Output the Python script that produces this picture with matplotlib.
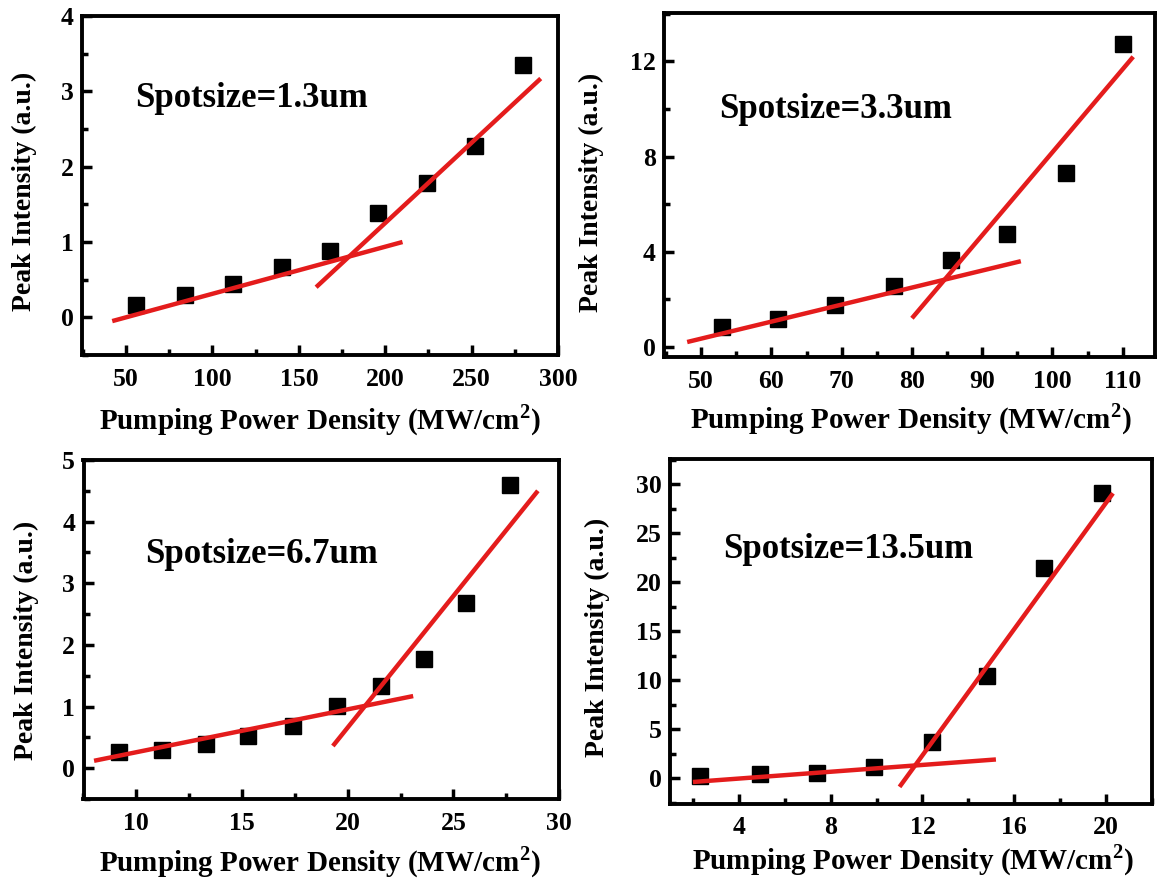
import matplotlib
matplotlib.use("Agg")
import matplotlib.pyplot as plt
from matplotlib.ticker import MultipleLocator

plt.rcParams['font.family'] = ['Liberation Serif', 'DejaVu Serif']
plt.rcParams['font.weight'] = 'bold'
plt.rcParams['mathtext.fontset'] = 'custom'
plt.rcParams['mathtext.rm'] = 'Liberation Serif:bold'
plt.rcParams['mathtext.bf'] = 'Liberation Serif:bold'

# ---- data ----
labels = ["Spotsize=1.3um", "Spotsize=3.3um", "Spotsize=6.7um", "Spotsize=13.5um"]
xlabel = r'Pumping Power Density (MW/cm$^{2}$)'
ylabel = 'Peak Intensity (a.u.)'

x1 = [56, 84, 112, 140, 168, 196, 224, 252, 280]
y1 = [0.17, 0.30, 0.44, 0.67, 0.88, 1.38, 1.78, 2.27, 3.35]
low1_x = [42, 210]; low1_y = [-0.05, 1.0]
high1_x = [160, 290]; high1_y = [0.40, 3.17]

x2 = [53, 61, 69, 77.5, 85.5, 93.5, 102, 110]
y2 = [0.85, 1.15, 1.75, 2.55, 3.65, 4.75, 7.3, 12.75]
low2_x = [48, 95.5]; low2_y = [0.2, 3.6]
high2_x = [80, 111.5]; high2_y = [1.2, 12.2]

x3 = [9.2, 11.2, 13.3, 15.3, 17.4, 19.5, 21.6, 23.6, 25.6, 27.7]
y3 = [0.27, 0.30, 0.40, 0.53, 0.68, 1.01, 1.33, 1.77, 2.68, 4.6]
low3_x = [8, 23.1]; low3_y = [0.12, 1.17]
high3_x = [19.3, 29]; high3_y = [0.36, 4.5]

x4 = [2.3, 4.9, 7.4, 9.9, 12.4, 14.8, 17.3, 19.8]
y4 = [0.25, 0.45, 0.55, 1.1, 3.7, 10.4, 21.5, 29.1]
low4_x = [2, 15.2]; low4_y = [-0.4, 1.9]
high4_x = [11, 20.3]; high4_y = [-0.9, 29.1]

W, H = 1164, 881
fig = plt.figure(figsize=(W / 100, H / 100), dpi=100)

def add_ax(l, r, t, b):
    return fig.add_axes([l / W, 1 - b / H, (r - l) / W, (b - t) / H])

def ftext(x, y, s, **kw):
    fig.text(x / W, 1 - y / H, s, **kw)

panels = [
    dict(box=(82, 558, 16, 355), x=x1, y=y1, low=(low1_x, low1_y), high=(high1_x, high1_y),
         xlim=(24.5, 300), ylim=(-0.5, 4.0), xmaj=50, xmin=25, ymaj=1, ymin=0.5,
         txt=(0.112, 0.758), lab=labels[0], xl=(320, 420), yl=(24, 191)),
    dict(box=(664, 1155, 13, 357), x=x2, y=y2, low=(low2_x, low2_y), high=(high2_x, high2_y),
         xlim=(44.7, 114.6), ylim=(-0.43, 14.04), xmaj=10, xmin=5, ymaj=4, ymin=2,
         txt=(0.112, 0.72), lab=labels[1], xl=(911, 419), yl=(591, 192)),
    dict(box=(83.5, 559, 460, 799), x=x3, y=y3, low=(low3_x, low3_y), high=(high3_x, high3_y),
         xlim=(7.5, 30), ylim=(-0.5, 5), xmaj=5, xmin=2.5, ymaj=1, ymin=0.5,
         txt=(0.129, 0.72), lab=labels[2], xl=(320, 862), yl=(26, 640)),
    dict(box=(670, 1152, 459, 804), x=x4, y=y4, low=(low4_x, low4_y), high=(high4_x, high4_y),
         xlim=(1, 22), ylim=(-2.65, 32.6), xmaj=4, xmin=2, ymaj=5, ymin=2.5,
         txt=(0.11, 0.737), lab=labels[3], xl=(913, 860), yl=(597, 637)),
]

red = '#e41c1c'
for p in panels:
    ax = add_ax(*p['box'])
    ax.plot(p['low'][0], p['low'][1], color=red, lw=3.2, solid_capstyle='butt', zorder=3)
    ax.plot(p['high'][0], p['high'][1], color=red, lw=3.2, solid_capstyle='butt', zorder=3)
    ax.plot(p['x'], p['y'], 's', color='black', ms=11.5, zorder=2)
    ax.set_xlim(*p['xlim'])
    ax.set_ylim(*p['ylim'])
    ax.xaxis.set_major_locator(MultipleLocator(p['xmaj']))
    ax.xaxis.set_minor_locator(MultipleLocator(p['xmin']))
    ax.yaxis.set_major_locator(MultipleLocator(p['ymaj']))
    ax.yaxis.set_minor_locator(MultipleLocator(p['ymin']))
    for s in ax.spines.values():
        s.set_linewidth(2.8)
    ax.tick_params(which='major', direction='in', length=7, width=2.5, labelsize=18.5)
    ax.tick_params(which='minor', direction='in', length=4.5, width=2.5)
    ax.tick_params(axis='x', which='major', pad=9)
    ax.tick_params(axis='y', which='major', pad=6)
    for lbl in ax.get_xticklabels() + ax.get_yticklabels():
        lbl.set_fontweight('bold')
    ftext(p['xl'][0], p['xl'][1], xlabel, fontsize=21, fontweight='bold', ha='center', va='center')
    ftext(p['yl'][0], p['yl'][1], ylabel, fontsize=20, fontweight='bold', ha='center', va='center',
          rotation=90)
    ax.text(p['txt'][0], p['txt'][1], p['lab'], transform=ax.transAxes, fontsize=25,
            fontweight='bold', ha='left', va='center')

fig.savefig('out.png', dpi=100)
